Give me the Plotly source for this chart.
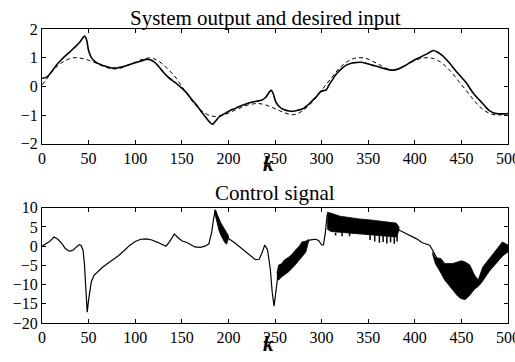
import plotly.graph_objects as go

# ---------------- Top plot data ----------------
k_out = [0, 5, 10, 15, 20, 25, 30, 35, 40, 44, 46, 48, 50, 53, 57, 62, 68, 75, 80, 85, 90, 95, 100, 106,
         112, 116, 120, 125, 130, 135, 140, 145, 150, 155, 160, 165, 170, 175, 180, 183, 186, 190, 195,
         201, 208, 215, 222, 230, 236, 240, 244, 246, 248, 251, 255, 260, 265, 269, 275, 280, 285, 290,
         295, 299, 302, 305, 308, 312, 316, 321, 326, 331, 337, 342, 348, 354, 360, 366, 372, 376, 382,
         390, 396, 402, 408, 414, 420, 425, 430, 437, 445, 455, 463, 470, 475, 480, 485, 490, 495, 500]
y_out = [0.28, 0.32, 0.5, 0.72, 0.9, 1.06, 1.2, 1.36, 1.52, 1.7, 1.75, 1.6, 1.25, 1.0, 0.86, 0.77, 0.7,
         0.64, 0.64, 0.67, 0.72, 0.77, 0.82, 0.88, 0.94, 0.93, 0.86, 0.7, 0.5, 0.33, 0.2, 0.08, -0.06,
         -0.22, -0.43, -0.62, -0.84, -1.05, -1.25, -1.32, -1.22, -1.07, -0.97, -0.86, -0.76, -0.66,
         -0.58, -0.52, -0.48, -0.38, -0.2, -0.14, -0.25, -0.55, -0.72, -0.82, -0.86, -0.87, -0.83,
         -0.78, -0.66, -0.5, -0.34, -0.18, -0.15, -0.12, 0.05, 0.25, 0.44, 0.6, 0.73, 0.8, 0.83, 0.84,
         0.8, 0.74, 0.69, 0.63, 0.58, 0.56, 0.6, 0.73, 0.85, 0.96, 1.05, 1.15, 1.25, 1.18, 1.06, 0.82,
         0.5, 0.13, -0.25, -0.5, -0.68, -0.85, -0.93, -0.96, -0.96, -0.95]

k_des = list(range(0, 501, 5))
y_des = [0.05, 0.25, 0.48, 0.66, 0.8, 0.9, 0.97, 1.0, 0.99, 0.96, 0.91, 0.85, 0.78, 0.71, 0.65, 0.61,
         0.61, 0.64, 0.7, 0.77, 0.84, 0.91, 0.96, 0.99, 0.96, 0.88, 0.76, 0.6, 0.44, 0.24, 0.0, -0.24,
         -0.47, -0.66, -0.82, -0.94, -1.02, -1.05, -1.03, -0.99, -0.94, -0.86, -0.79, -0.72, -0.66,
         -0.62, -0.6, -0.61, -0.65, -0.71, -0.78, -0.85, -0.92, -0.97, -0.99, -0.94, -0.84, -0.71,
         -0.55, -0.36, -0.14, 0.07, 0.27, 0.48, 0.67, 0.8, 0.91, 0.97, 1.0, 0.99, 0.95, 0.87, 0.79,
         0.7, 0.62, 0.57, 0.58, 0.64, 0.73, 0.82, 0.9, 0.96, 0.99, 1.0, 0.97, 0.9, 0.79, 0.64, 0.47,
         0.26, 0.06, -0.14, -0.35, -0.55, -0.72, -0.85, -0.94, -0.99, -1.0, -0.98, -0.95]

# ---------------- Bottom plot data ----------------
k_u = [0, 4, 8, 13, 17, 21, 25, 29, 33, 37, 40, 42, 44, 45.5, 47, 48.5, 50, 51.5, 53, 56, 60, 65, 70,
       76, 82, 88, 94, 100, 106, 112, 118, 124, 130, 133, 137, 142, 146, 150, 156, 160, 164, 170, 175,
       179, 182, 184, 186, 193, 200, 206, 212, 218, 224, 229, 233, 236, 239, 242, 245, 247, 249, 251,
       253, 260, 265, 272, 279, 286, 290, 294, 297, 300, 302, 304, 306, 320, 340, 360, 380,
       383, 392, 402, 408, 416, 419, 430, 450, 470, 490, 500]
u = [0.0, 0.5, 1.2, 2.4, 1.8, 0.8, -0.6, -1.3, -1.1, -0.2, 0.4, 0.2, -1.0, -4.5, -10.0, -17.2, -14.0,
     -11.0, -9.2, -7.5, -6.5, -5.5, -4.6, -3.6, -2.5, -1.2, 0.2, 1.2, 1.8, 1.9, 1.6, 1.0, 0.2, 0.0, 1.2,
     3.2, 2.2, 1.4, 0.9, 0.4, -0.2, -0.3, 0.0, 0.6, 3.5, 7.0, 9.4, 4.5, 2.0, 1.0, -0.2, -1.3, -2.4,
     -3.5, -3.4, -1.8, 0.3, -1.0, -6.0, -12.0, -15.6, -12.0, -7.8, -5.5, -4.7, -2.9, -0.7, 1.5, 1.7,
     1.8, 1.4, 0.3, 0.3, 3.5, 8.3, 5.5, 5.0, 4.5, 4.0, 4.2, 3.1, 1.9, 0.9, 0.26, -1.0, -6.0, -8.7, -9.8,
     -2.0, 0.0]

# oscillation envelopes (upper / lower) in the chattering regions
bandA_k = [185, 186, 188, 190, 192, 194, 196, 198, 200]
bandA_hi = [9.4, 9.4, 8.2, 7.0, 6.0, 5.2, 4.4, 3.6, 2.8]
bandA_lo = [9.0, 8.6, 6.0, 4.0, 2.8, 1.8, 1.0, 0.5, 2.0]

bandB_k = [252, 254, 257, 260, 265, 268, 272, 276, 279, 283, 286]
bandB_hi = [-7.0, -4.9, -4.6, -3.6, -2.8, -2.2, -1.0, 0.0, 1.1, 1.3, 1.7]
bandB_lo = [-8.5, -8.8, -8.0, -7.5, -6.6, -6.0, -4.8, -3.6, -2.6, -1.6, 1.2]

bandC_k = [306, 310, 320, 330, 340, 350, 360, 370, 380, 383]
bandC_hi = [8.8, 8.6, 7.8, 7.4, 7.1, 6.9, 6.6, 6.3, 6.0, 5.0]
bandC_lo = [4.5, 3.8, 3.6, 3.4, 3.2, 3.0, 2.8, 2.6, 2.4, 4.0]
spikeC_k = [315, 322, 330, 352, 357, 362, 366, 370, 374, 378, 381]
spikeC_lo = [2.8, 2.6, 2.6, 1.6, 1.2, 0.9, 1.1, 0.7, 1.0, 0.6, 1.2]

bandD_k = [419, 422, 428, 432, 441, 446, 450, 454, 459, 464, 468, 473, 480, 487, 494, 500]
bandD_hi = [-1.5, -3.0, -3.2, -4.5, -4.5, -4.0, -3.8, -4.1, -4.9, -7.5, -8.8, -5.4, -3.2, -1.0, 1.1, 0.3]
bandD_lo = [-2.0, -4.5, -7.0, -8.8, -11.5, -13.0, -13.7, -13.9, -12.8, -11.2, -10.5, -9.0, -6.5,
            -4.5, -2.6, -1.5]

xticks = [0, 50, 100, 150, 200, 250, 300, 350, 400, 450, 500]
yticks_top = [-2, -1, 0, 1, 2]
yticks_bot = [-20, -15, -10, -5, 0, 5, 10]

FONT = "Liberation Serif"

fig = go.Figure()

fig.add_trace(go.Scatter(x=k_des, y=y_des, mode="lines", xaxis="x", yaxis="y",
                         line=dict(color="black", width=1, dash="4px,3px"), line_shape="spline"))
fig.add_trace(go.Scatter(x=k_out, y=y_out, mode="lines", xaxis="x", yaxis="y",
                         line=dict(color="black", width=1.6), line_shape="spline"))

fig.add_trace(go.Scatter(x=k_u, y=u, mode="lines", xaxis="x2", yaxis="y2",
                         line=dict(color="black", width=1.2)))

for bk, bh, bl in [(bandA_k, bandA_hi, bandA_lo), (bandB_k, bandB_hi, bandB_lo),
                   (bandC_k, bandC_hi, bandC_lo), (bandD_k, bandD_hi, bandD_lo)]:
    fig.add_trace(go.Scatter(x=bk + bk[::-1], y=bh + bl[::-1], mode="lines", fill="toself",
                             fillcolor="black", xaxis="x2", yaxis="y2",
                             line=dict(color="black", width=0.8)))

sx, sy = [], []
for kk, lo in zip(spikeC_k, spikeC_lo):
    sx += [kk, kk, None]
    sy += [3.5, lo, None]
fig.add_trace(go.Scatter(x=sx, y=sy, mode="lines", xaxis="x2", yaxis="y2",
                         line=dict(color="black", width=1.5)))

axis_common = dict(showline=True, linecolor="black", linewidth=1, mirror="ticks", ticks="inside",
                   ticklen=4, tickcolor="black", showgrid=False, zeroline=False, automargin=False,
                   ticklabeloverflow="allow", ticklabelstandoff=0,
                   tickfont=dict(family=FONT, size=16, color="black"))

fig.update_layout(
    template="none",
    width=515, height=362, showlegend=False,
    paper_bgcolor="white", plot_bgcolor="white",
    font=dict(family=FONT, size=16, color="black"),
    margin=dict(l=42, r=7, t=28.5, b=39, pad=0, autoexpand=False),
    xaxis=dict(domain=[0, 1], range=[0, 500], tickvals=xticks, anchor="y", **axis_common),
    yaxis=dict(domain=[0.61, 1], range=[-2, 2], tickvals=yticks_top, anchor="x", **axis_common),
    xaxis2=dict(domain=[0, 1], range=[0, 500], tickvals=xticks, anchor="y2", **axis_common),
    yaxis2=dict(domain=[0, 0.392], range=[-20, 10], tickvals=yticks_bot, anchor="x2", **axis_common),
)

fig.add_annotation(text="System output and desired input", xref="paper", yref="paper",
                   x=0.479, y=1.039, xanchor="center", yanchor="middle", showarrow=False,
                   font=dict(family=FONT, size=21, color="black"))
fig.add_annotation(text="Control signal", xref="paper", yref="paper",
                   x=0.5, y=0.441, xanchor="center", yanchor="middle", showarrow=False,
                   font=dict(family=FONT, size=21, color="black"))
fig.add_annotation(text="<b><i>k</i></b>", xref="paper", yref="paper",
                   x=0.487, y=0.540, xanchor="center", yanchor="middle", showarrow=False,
                   font=dict(family=FONT, size=21, color="black"))
fig.add_annotation(text="<b><i>k</i></b>", xref="paper", yref="paper",
                   x=0.487, y=-0.071, xanchor="center", yanchor="middle", showarrow=False,
                   font=dict(family=FONT, size=21, color="black"))

fig.write_html("out.html", config={"displayModeBar": False},
               post_script="document.body.style.margin='0';")
